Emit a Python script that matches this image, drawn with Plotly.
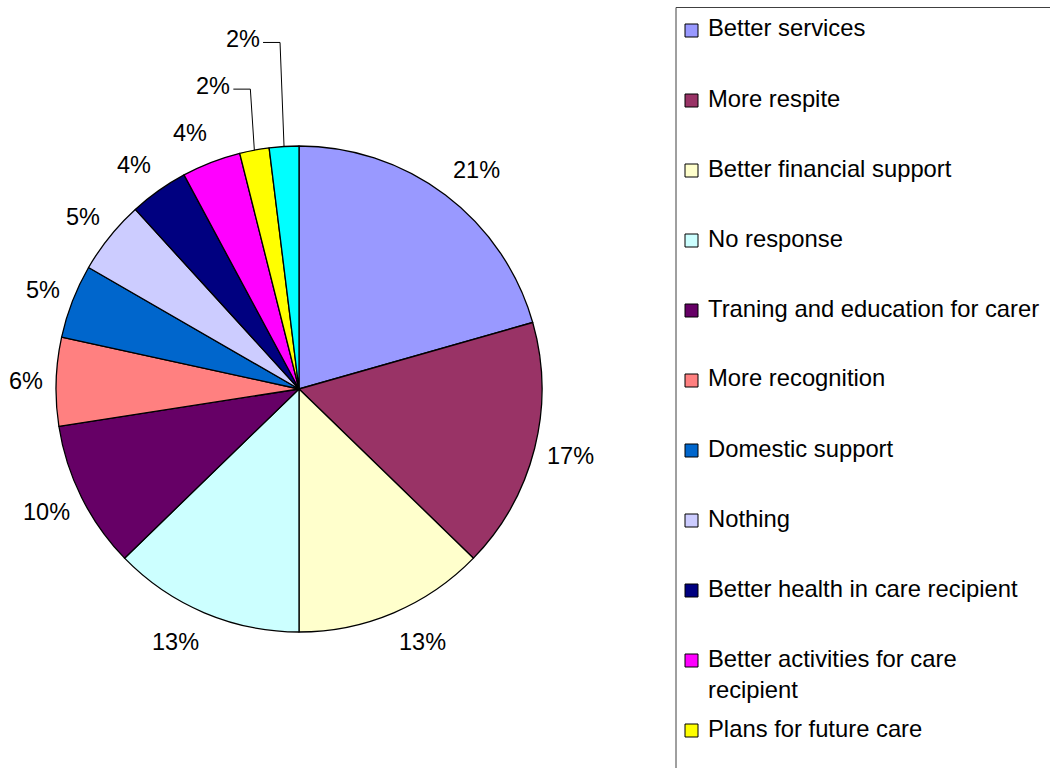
import math
import plotly.graph_objects as go

# Survey answers and their share (%)
labels = [
    "Better services",
    "More respite",
    "Better financial support",
    "No response",
    "Traning and education for carer",
    "More recognition",
    "Domestic support",
    "Nothing",
    "Better health in care recipient",
    "Better activities for care<br>recipient",
    "Plans for future care",
    "Other",
]
values = [21, 17, 13, 13, 10, 6, 5, 5, 4, 4, 2, 2]
colors = [
    "#9999FF", "#993366", "#FFFFCC", "#CCFFFF", "#660066", "#FF8080",
    "#0066CC", "#CCCCFF", "#000080", "#FF00FF", "#FFFF00", "#00FFFF",
]

W, H = 1050, 768
FONT = "Liberation Sans, Arial, sans-serif"
FS = 23.5          # value labels
FS_LEG = 23.8      # legend captions

# pie geometry (pixels)
CX, CY, R = 299, 389, 243
LABEL_RX, LABEL_RY = 256, 275      # label placement radii (horizontal / vertical)
CALLOUT_RISE = {10: 61, 11: 104}   # small slices get raised labels with leader lines


def px(x):
    return x / W


def py(y):
    return 1 - y / H


def half_width(text, size):
    # approximate Arial advance widths: digits 0.556 em, '%' 0.889 em
    digits = sum(ch.isdigit() for ch in text)
    return (0.556 * digits + 0.889 * text.count("%")) * size / 2


fig = go.Figure()
fig.add_trace(go.Pie(
    labels=labels,
    values=values,
    sort=False,
    direction="clockwise",
    rotation=0,
    textinfo="none",
    hoverinfo="label+value",
    marker=dict(colors=colors, line=dict(color="#000000", width=1.3)),
    domain=dict(x=[px(CX - R), px(CX + R)], y=[py(CY + R), py(CY - R)]),
    showlegend=False,
))

annotations = []
shapes = []
label_font = dict(family=FONT, size=FS, color="#000000")

# value labels around the pie
total = sum(values)
cum = 0
for i, v in enumerate(values):
    mid = (cum + v / 2) / total * 2 * math.pi
    cum += v
    s, c = math.sin(mid), math.cos(mid)
    text = f"{v}%"
    if i in CALLOUT_RISE:
        ax, ay = CX + R * s, CY - R * c
        ex, ey = ax - 4, ay - CALLOUT_RISE[i]
        tx = ex - 17
        shapes.append(dict(type="path", xref="paper", yref="paper",
                           path=f"M {px(tx)},{py(ey)} L {px(ex)},{py(ey)} L {px(ax)},{py(ay)}",
                           line=dict(color="#000000", width=1)))
        annotations.append(dict(x=px(tx - 1), y=py(ey - 3), xref="paper", yref="paper",
                                text=text, showarrow=False, xanchor="right",
                                yanchor="middle", font=label_font))
    else:
        hw = half_width(text, FS)
        lx = CX + LABEL_RX * s + math.copysign(hw, s)
        ly = CY - LABEL_RY * c
        annotations.append(dict(x=px(lx), y=py(ly), xref="paper", yref="paper",
                                text=text, showarrow=False, xanchor="center",
                                yanchor="middle", font=label_font))

# legend box with one square and caption per answer (rows below the page are clipped)
BOX_L, BOX_T = 676, 7.5
shapes.append(dict(type="rect", xref="paper", yref="paper",
                   x0=px(BOX_L), y0=py(BOX_T), x1=px(W + 20), y1=py(H + 20),
                   line=dict(color="#404040", width=1), fillcolor="rgba(0,0,0,0)"))
SQ_X, SQ = 685, 13
ROW0, PITCH = 30.5, 70
for i, (lab, col) in enumerate(zip(labels, colors)):
    cy = ROW0 + i * PITCH
    if cy + SQ > H:
        continue
    shapes.append(dict(type="rect", xref="paper", yref="paper",
                       x0=px(SQ_X), x1=px(SQ_X + SQ), y0=py(cy - SQ / 2), y1=py(cy + SQ / 2),
                       fillcolor=col, line=dict(color="#000000", width=1)))
    annotations.append(dict(x=px(706), y=py(cy - 18), xref="paper", yref="paper",
                            text=lab, showarrow=False, xanchor="left", yanchor="top",
                            align="left", font=dict(family=FONT, size=FS_LEG, color="#000000")))

fig.update_layout(
    width=W, height=H,
    margin=dict(l=0, r=0, t=0, b=0),
    paper_bgcolor="#FFFFFF",
    plot_bgcolor="#FFFFFF",
    shapes=shapes,
    annotations=annotations,
)

fig.write_html("out.html")
